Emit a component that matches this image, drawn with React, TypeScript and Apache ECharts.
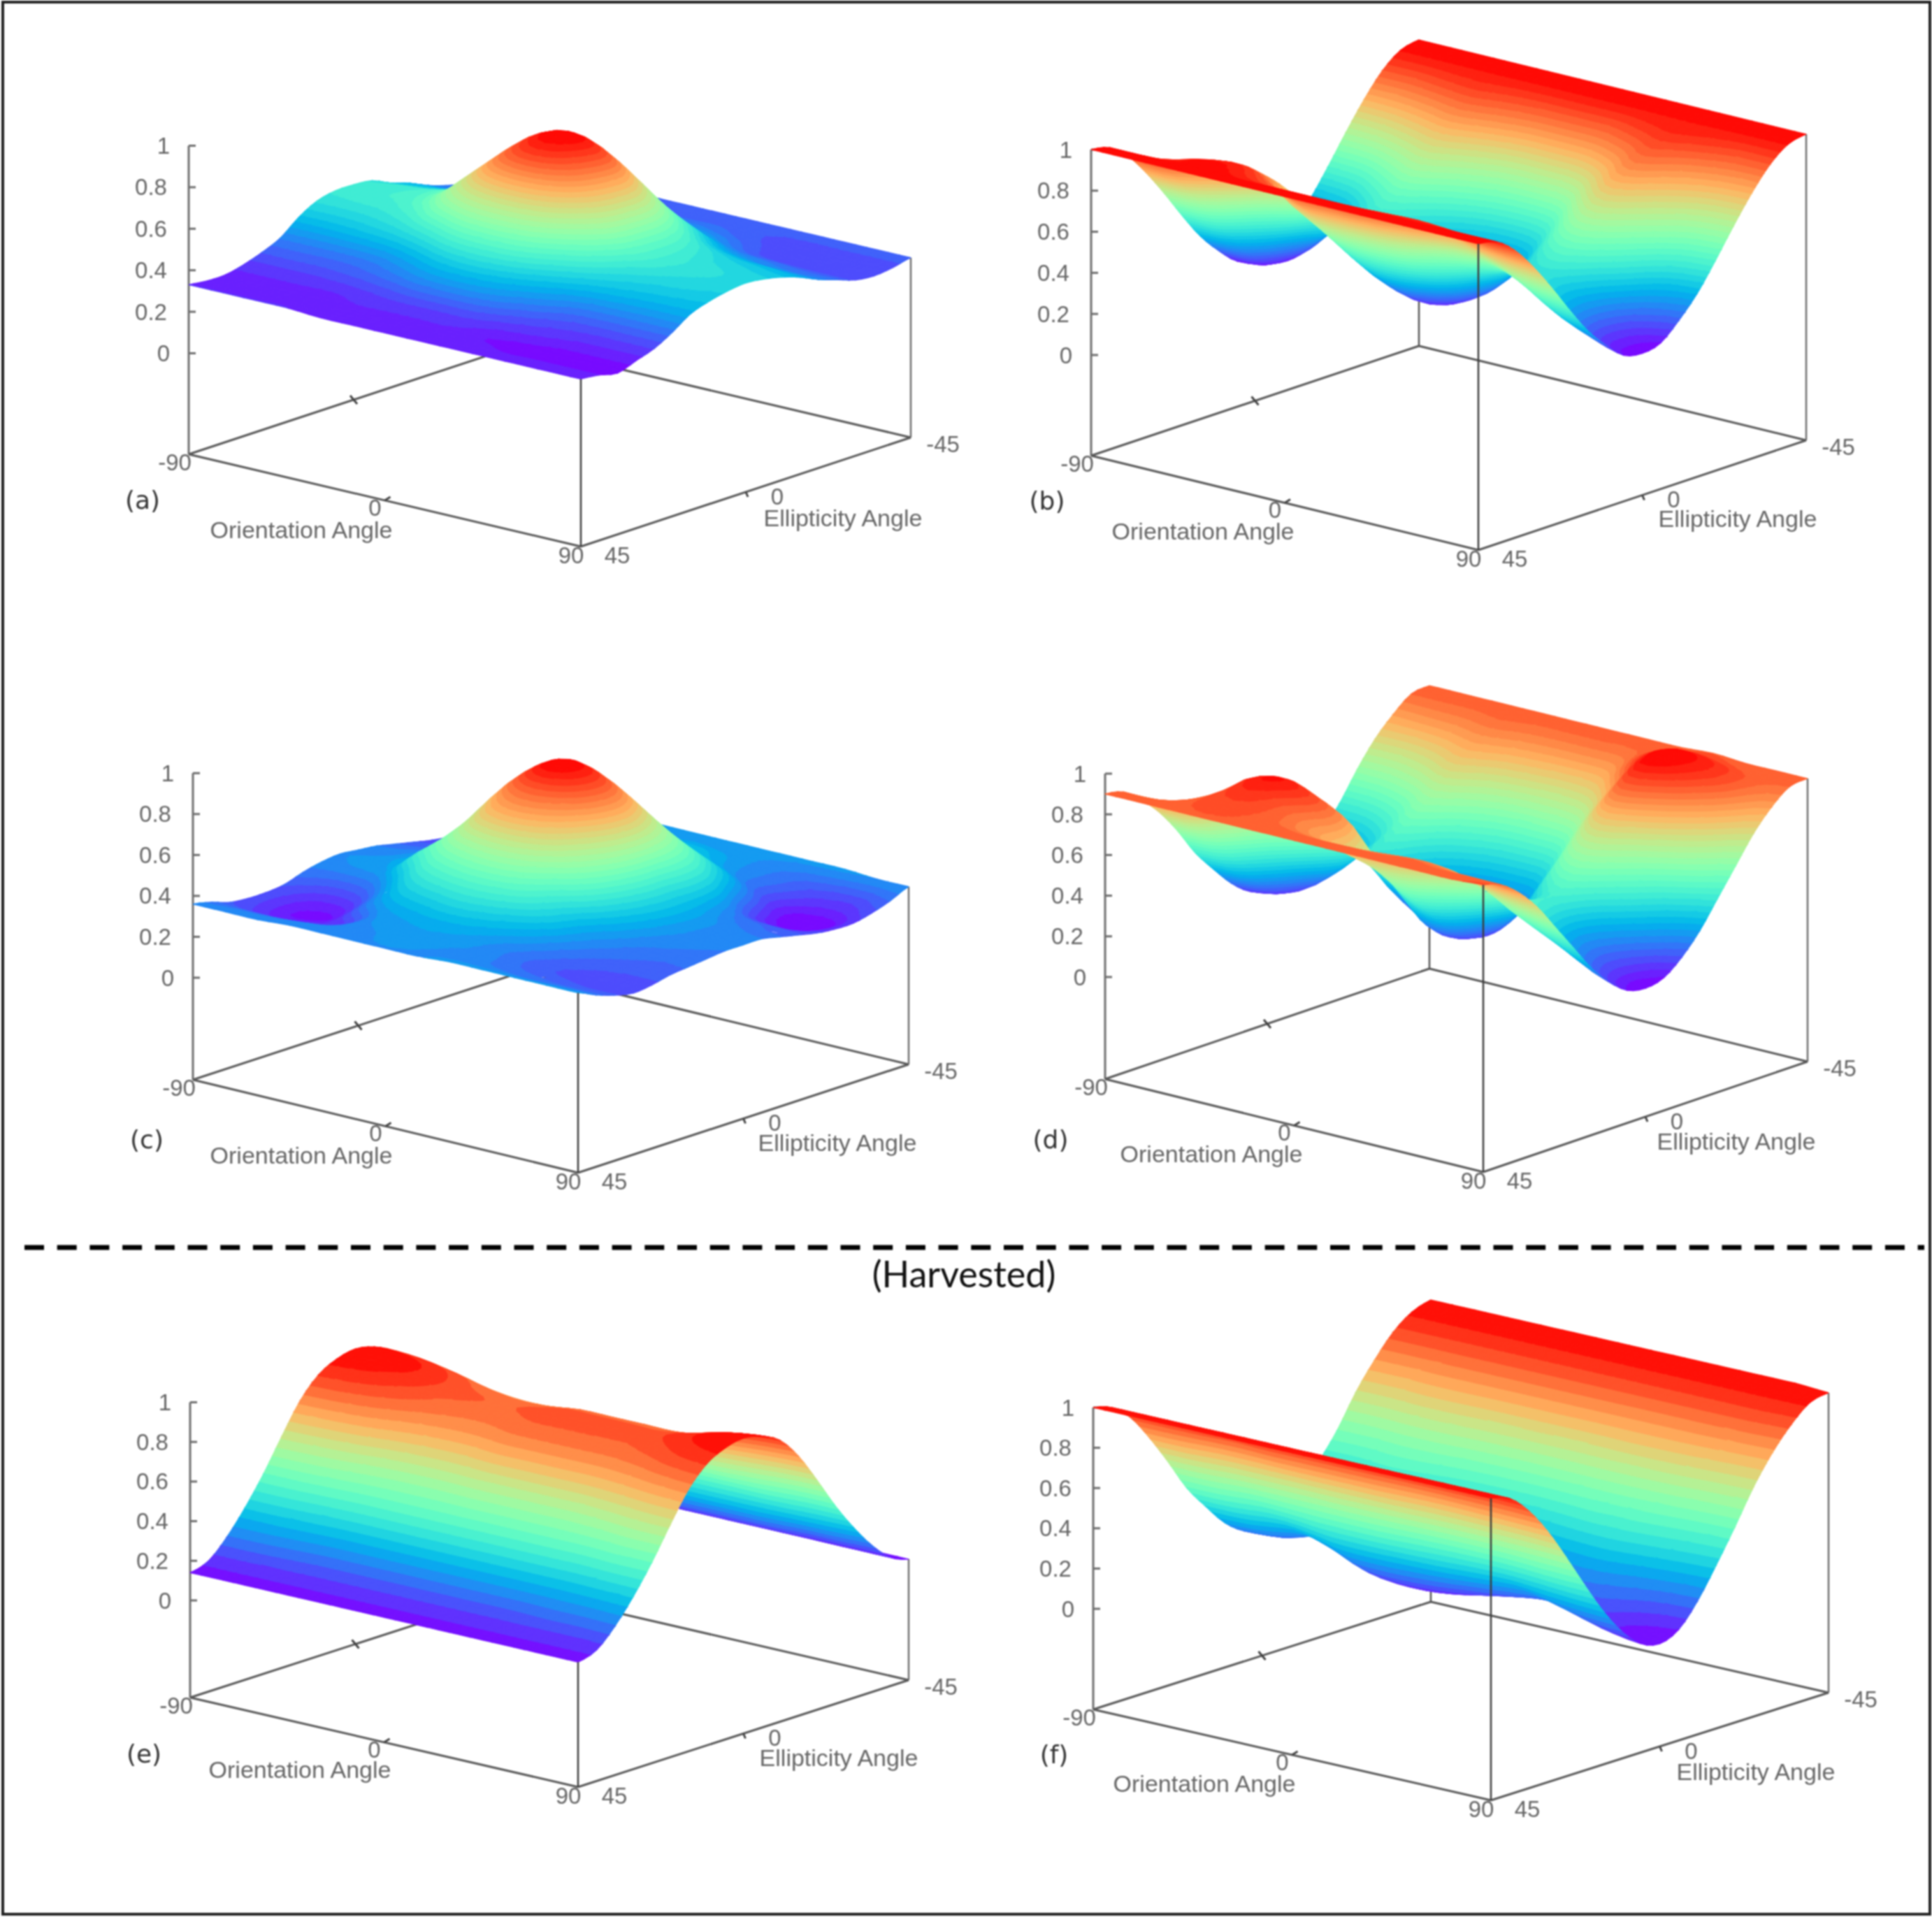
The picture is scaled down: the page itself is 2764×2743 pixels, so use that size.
import React, { useEffect, useRef } from "react";
import * as echarts from "echarts";

const PAGE_W = 2764;
const PAGE_H = 2743;

// Sampling axes of all six surfaces (degrees)
const orientationAngles = [-90, -75, -60, -45, -30, -15, 0, 15, 30, 45, 60, 75, 90];
const ellipticityAngles = [45, 40, 35, 30, 25, 20, 15, 10, 5, 0, -5, -10, -15, -20, -25, -30, -35, -40, -45];
const zTicks = ["0", "0.2", "0.4", "0.6", "0.8", "1"];
const zTickValues = [0, 0.2, 0.4, 0.6, 0.8, 1];

// Surface heights (in hundredths); rows follow ellipticityAngles, columns orientationAngles.
const surfaceA = [
  [33,33,33,33,32,32,32,32,32,32,32,32,32],
  [32,32,32,32,32,32,32,32,32,31,31,31,31],
  [32,32,32,32,33,33,33,33,31,30,29,29,29],
  [34,34,34,34,35,36,36,36,34,33,32,32,32],
  [37,37,37,38,40,43,44,43,39,36,35,35,35],
  [41,41,41,42,46,51,53,51,46,41,40,40,40],
  [48,48,49,51,56,63,65,63,55,49,47,46,46],
  [53,53,54,58,68,77,80,77,66,55,51,50,49],
  [55,56,57,63,76,88,93,88,75,60,54,52,51],
  [55,56,58,64,79,93,99,93,78,61,55,53,52],
  [54,55,57,63,79,94,100,94,78,61,54,52,51],
  [50,51,53,58,73,86,92,86,72,58,52,50,49],
  [47,48,49,53,64,74,78,74,63,52,48,47,46],
  [43,43,44,47,54,60,63,60,54,46,43,42,42],
  [40,40,41,42,46,49,50,49,45,41,40,39,39],
  [38,38,38,39,41,43,44,43,41,37,36,36,36],
  [37,37,37,38,39,40,40,40,38,36,35,35,35],
  [37,37,37,37,38,38,38,38,37,36,36,36,36],
  [38,38,38,38,38,38,38,38,38,38,38,38,38],
];
const surfaceB = [
  [100,100,100,100,100,100,100,100,100,100,100,100,100],
  [98,98,98,99,98,98,98,98,98,98,98,98,98],
  [91,91,97,98,94,91,91,91,93,94,93,91,91],
  [80,81,92,95,88,81,81,82,85,87,85,82,80],
  [67,69,82,88,76,69,68,70,75,79,75,70,67],
  [53,55,72,80,66,57,54,57,67,69,65,57,53],
  [40,43,61,70,56,45,41,46,57,61,55,45,40],
  [30,32,50,60,47,35,31,37,50,54,47,36,30],
  [22,25,43,55,42,28,24,31,46,50,42,29,22],
  [20,23,38,47,38,26,22,29,44,48,40,27,20],
  [22,25,40,49,40,28,24,31,47,53,43,29,22],
  [30,32,45,53,45,34,31,37,54,61,51,36,30],
  [40,43,53,60,52,44,41,46,62,71,60,45,40],
  [53,55,63,69,62,56,54,57,71,80,70,57,53],
  [67,69,74,78,73,68,68,70,79,87,79,70,67],
  [80,81,84,87,84,81,81,82,87,92,87,82,80],
  [91,91,93,94,92,91,91,91,94,96,94,91,91],
  [98,98,98,98,98,98,98,98,98,98,98,98,98],
  [100,100,100,100,100,100,100,100,100,100,100,100,100],
];
const surfaceC = [
  [36,36,36,37,37,37,37,37,38,38,38,38,38],
  [34,34,34,35,36,37,38,37,36,35,34,34,34],
  [31,28,28,30,36,38,39,38,36,33,32,31,31],
  [30,25,26,28,37,40,41,40,36,32,30,29,29],
  [30,24,24,34,42,45,47,45,40,34,31,30,30],
  [31,26,27,38,48,53,55,53,46,37,33,32,32],
  [34,31,33,44,56,63,66,63,51,40,35,33,33],
  [36,37,39,52,64,76,80,75,61,45,37,35,34],
  [37,38,41,50,69,84,90,84,68,49,39,36,35],
  [36,37,41,52,74,91,99,91,73,51,40,36,35],
  [35,36,40,51,74,92,100,92,74,51,40,36,35],
  [33,34,38,48,68,86,93,86,70,52,38,34,33],
  [31,32,35,43,60,76,82,76,64,50,35,32,31],
  [29,30,32,38,51,63,68,63,56,44,29,27,29],
  [28,28,30,34,43,50,53,50,47,38,25,23,28],
  [29,29,30,33,39,44,46,44,39,32,23,22,28],
  [31,31,32,34,38,41,42,41,37,33,27,26,30],
  [34,34,34,35,37,38,39,38,37,34,31,30,33],
  [37,37,37,37,38,38,38,38,38,38,38,37,37],
];
const surfaceD = [
  [90,90,90,90,90,90,90,90,90,90,90,90,91],
  [88,88,90,91,90,89,88,88,88,89,88,88,88],
  [81,83,90,93,90,85,82,82,84,85,83,82,81],
  [72,74,90,96,90,82,74,73,76,79,76,73,71],
  [60,64,90,98,94,84,68,61,67,72,67,62,58],
  [46,51,80,92,87,78,58,49,58,65,56,50,45],
  [35,39,65,80,72,60,45,38,49,58,47,39,32],
  [25,29,49,66,56,50,30,28,42,52,40,30,22],
  [18,22,38,52,45,34,21,22,37,48,35,24,15],
  [16,19,31,45,30,20,18,20,35,47,33,22,13],
  [18,21,33,46,32,22,20,22,42,52,38,25,15],
  [25,28,38,50,37,28,27,29,52,62,49,33,22],
  [35,37,46,56,45,38,36,39,62,75,62,44,32],
  [46,48,55,63,55,49,48,51,72,89,80,62,45],
  [60,61,66,72,65,61,61,64,80,98,93,78,58],
  [72,72,75,79,75,73,72,75,89,100,97,88,71],
  [81,82,83,85,83,82,82,83,92,98,96,90,81],
  [88,88,88,89,88,88,88,88,90,93,91,89,88],
  [89,89,89,89,89,89,89,89,89,90,89,89,89],
];
const surfaceE = [
  [14,14,14,14,14,14,14,14,14,14,14,14,14],
  [17,17,17,17,17,17,17,17,17,17,17,17,17],
  [26,26,25,24,24,24,24,24,24,24,25,25,26],
  [38,38,37,36,36,36,36,36,36,36,36,37,38],
  [52,52,51,50,50,50,50,50,50,50,50,52,52],
  [68,67,65,62,61,61,62,62,62,62,64,67,68],
  [83,82,80,76,74,74,76,76,76,76,78,81,83],
  [93,92,89,85,83,83,85,85,85,85,87,91,93],
  [98,97,94,89,87,87,89,89,89,89,92,96,98],
  [100,99,96,91,89,89,91,91,91,91,94,98,100],
  [98,97,94,89,87,87,89,89,89,89,92,96,98],
  [93,92,89,85,83,83,85,85,85,85,87,91,93],
  [82,81,79,75,73,73,75,75,75,75,77,80,82],
  [67,66,64,61,60,60,61,61,61,61,63,66,67],
  [51,51,50,49,49,49,49,49,49,49,49,51,51],
  [37,37,36,34,34,34,34,34,34,34,35,36,37],
  [25,25,24,23,23,23,23,23,23,23,24,24,25],
  [16,16,16,16,16,16,16,16,16,16,16,16,16],
  [13,13,13,13,13,13,13,13,13,13,12,12,12],
];
const surfaceF = [
  [100,100,100,100,100,100,100,100,100,100,100,100,100],
  [97,97,97,97,97,97,97,97,97,97,97,97,97],
  [89,89,89,90,89,89,89,89,89,89,89,89,88],
  [76,76,78,78,77,77,77,77,78,78,77,76,75],
  [61,61,63,63,63,62,62,62,63,63,62,61,59],
  [45,45,48,47,45,44,44,46,47,47,46,43,42],
  [33,33,36,34,29,28,29,30,32,33,31,28,26],
  [22,23,27,23,16,14,15,18,21,23,19,15,13],
  [15,16,20,15,8,6,7,10,13,15,13,7,4],
  [12,13,17,12,5,3,4,7,10,12,10,4,1],
  [15,16,20,16,9,7,8,11,14,16,14,8,5],
  [24,25,28,25,19,17,18,21,23,25,22,18,16],
  [37,37,40,38,33,32,32,34,37,38,36,33,31],
  [50,50,52,52,50,49,49,50,51,51,50,48,47],
  [66,66,68,68,67,67,67,67,68,68,67,65,64],
  [79,79,80,80,80,80,80,80,80,80,80,79,78],
  [90,90,90,90,90,90,90,90,90,90,90,90,89],
  [97,97,97,97,97,97,97,97,97,97,97,97,97],
  [100,100,100,100,100,100,100,100,100,100,100,100,99],
];

// Where each 3-D box sits on the page
const panels = [
  { name: "(a)", values: surfaceA, L: [270, 650], F: [831, 782], R: [1303, 626], zero: 144.5, unit: 297, bands: 36, tagAt: [-66, 65], orientAt: [161, 108], ellipAt: [-97, 115] },
  { name: "(b)", values: surfaceB, L: [1561, 652], F: [2115, 787], R: [2584, 630], zero: 144, unit: 294, bands: 36, tagAt: [-63, 64], orientAt: [160, 108], ellipAt: [-98, 112] },
  { name: "(c)", values: surfaceC, L: [276, 1545], F: [827, 1678], R: [1300, 1523], zero: 146, unit: 292.7, bands: 36, tagAt: [-66, 85], orientAt: [155, 108], ellipAt: [-102, 112] },
  { name: "(d)", values: surfaceD, L: [1581, 1544], F: [2122, 1677], R: [2586, 1519], zero: 146, unit: 291, bands: 36, tagAt: [-78, 86], orientAt: [152, 107], ellipAt: [-102, 114] },
  { name: "(e)", values: surfaceE, L: [272, 2429], F: [827, 2557], R: [1300, 2404], zero: 139, unit: 283.5, bands: 24, tagAt: [-66, 80], orientAt: [157, 103], ellipAt: [-100, 111] },
  { name: "(f)", values: surfaceF, L: [1564, 2446], F: [2133, 2576], R: [2616, 2422], zero: 144, unit: 288, bands: 24, tagAt: [-56, 64], orientAt: [159, 106], ellipAt: [-104, 113] },
];

// Display only: the mesh is drawn with a spline through the read values, like a line series' smooth option.
const MESH_STEPS = 3;

const rainbow = (t: number) => {
  const r = Math.min(1, Math.abs(2 * t - 0.5));
  const g = Math.sin(Math.PI * t);
  const b = Math.cos((Math.PI * t) / 2);
  return `rgb(${Math.round(r * 255)},${Math.round(g * 255)},${Math.round(b * 255)})`;
};

type P = (typeof panels)[number];

const project = (p: P, psi: number, chi: number, z: number) => {
  const a = (psi + 90) / 180;
  const b = (45 - chi) / 90;
  return [
    p.L[0] + a * (p.F[0] - p.L[0]) + b * (p.R[0] - p.F[0]),
    p.L[1] + a * (p.F[1] - p.L[1]) + b * (p.R[1] - p.F[1]) - p.zero - z * p.unit,
  ];
};
const ground = (p: P, psi: number, chi: number) => {
  const q = project(p, psi, chi, 0);
  return [q[0], q[1] + p.zero];
};

const spline = (a: number, b: number, c: number, d: number, t: number) =>
  0.5 * (2 * b + (c - a) * t + (2 * a - 5 * b + 4 * c - d) * t * t + (3 * b - a - 3 * c + d) * t * t * t);

const smoothLine = (line: number[]) => {
  const out: number[] = [];
  const at = (i: number) => line[Math.max(0, Math.min(line.length - 1, i))];
  for (let i = 0; i < line.length - 1; i++) {
    for (let s = 0; s < MESH_STEPS; s++) out.push(spline(at(i - 1), at(i), at(i + 1), at(i + 2), s / MESH_STEPS));
  }
  out.push(line[line.length - 1]);
  return out;
};

const smoothMesh = (values: number[][]) => {
  const wide = values.map(smoothLine);
  const cols = wide[0].map((_, c) => smoothLine(wide.map((row) => row[c])));
  return cols[0].map((_, r) => cols.map((col) => col[r]));
};

// Cuts one triangle [x, y, t] into the palette bands it crosses.
const clipLevel = (poly: number[][], level: number, keepAbove: boolean) => {
  const out: number[][] = [];
  for (let i = 0; i < poly.length; i++) {
    const A = poly[i];
    const B = poly[(i + 1) % poly.length];
    const inA = keepAbove ? A[2] >= level : A[2] <= level;
    const inB = keepAbove ? B[2] >= level : B[2] <= level;
    if (inA) out.push(A);
    if (inA !== inB) {
      const s = (level - A[2]) / (B[2] - A[2]);
      out.push([A[0] + s * (B[0] - A[0]), A[1] + s * (B[1] - A[1]), level]);
    }
  }
  return out;
};

const bandPolygons = (tri: number[][], bands: number, children: any[]) => {
  const ts = tri.map((v) => v[2]);
  const lo = Math.max(0, Math.floor(Math.min(...ts) * bands));
  const hi = Math.min(bands - 1, Math.floor(Math.max(...ts) * bands));
  for (let k = lo; k <= hi; k++) {
    let poly = clipLevel(tri, k / bands, true);
    if (poly.length) poly = clipLevel(poly, (k + 1) / bands, false);
    if (poly.length < 3) continue;
    const color = rainbow((k + 0.5) / bands);
    children.push({
      type: "polygon",
      shape: { points: poly.map((v) => [v[0], v[1]]) },
      style: { fill: color, stroke: color, lineWidth: 1.2 },
    });
  }
};

const surfaceSeries = (p: P) => {
  const flat = p.values.flat();
  const min = Math.min(...flat);
  const max = Math.max(...flat);
  const mesh = smoothMesh(p.values);
  const cells: number[][] = [];
  for (let r = mesh.length - 1; r > 0; r--) {
    for (let c = 0; c < mesh[0].length - 1; c++) cells.push([r, c]);
  }
  const psiStep = (orientationAngles[1] - orientationAngles[0]) / MESH_STEPS;
  const chiStep = (ellipticityAngles[1] - ellipticityAngles[0]) / MESH_STEPS;
  return {
    type: "custom",
    coordinateSystem: "cartesian2d",
    silent: true,
    clip: false,
    z: 3,
    progressive: 0,
    data: cells,
    renderItem: (_: any, api: any) => {
      const r = api.value(0);
      const c = api.value(1);
      const vertex = (rr: number, cc: number) => {
        const z = Math.max(min, Math.min(max, mesh[rr][cc]));
        const xy = api.coord(project(p, orientationAngles[0] + cc * psiStep, ellipticityAngles[0] + rr * chiStep, z / 100));
        return [xy[0], xy[1], (z - min) / (max - min)];
      };
      const far = vertex(r, c);
      const side = vertex(r, c + 1);
      const other = vertex(r - 1, c);
      const near = vertex(r - 1, c + 1);
      const children: any[] = [];
      bandPolygons([far, side, other], p.bands, children);
      bandPolygons([side, near, other], p.bands, children);
      return { type: "group", children };
    },
  };
};

const GREY = "#666666";

const frameSeries = (p: P, front: boolean) => ({
  type: "custom",
  coordinateSystem: "cartesian2d",
  silent: true,
  clip: false,
  z: front ? 4 : 2,
  data: [[0, 0]],
  renderItem: (_: any, api: any) => {
    const line = (a: number[], b: number[], color = "#585858", w = 3) => {
      const s = api.coord(a);
      const e = api.coord(b);
      return { type: "line", shape: { x1: s[0], y1: s[1], x2: e[0], y2: e[1] }, style: { stroke: color, lineWidth: w } };
    };
    const text = (s: string, at: number[], size = 33, color = GREY, family = '"Liberation Sans"') => {
      const c = api.coord(at);
      return {
        type: "text",
        x: c[0],
        y: c[1],
        style: { text: s, font: `${size}px ${family}`, fill: color, align: "center", verticalAlign: "middle" },
      };
    };
    const L = ground(p, -90, 45);
    const F = ground(p, 90, 45);
    const R = ground(p, 90, -45);
    const B = ground(p, -90, -45);
    const lastRow = ellipticityAngles.length - 1;
    const lastCol = orientationAngles.length - 1;
    const children: any[] = [];
    if (!front) {
      const top = project(p, -90, 45, 1);
      children.push(line(L, top, "#6e6e6e", 3));
      zTickValues.forEach((v, i) => {
        const t = project(p, -90, 45, v);
        children.push(line(t, [t[0] + 10, t[1]], "#6e6e6e", 3));
        children.push(text(zTicks[i], [t[0] - (zTicks[i].length > 1 ? 54 : 36), t[1]]));
      });
      children.push(line(L, B), line(B, R));
      children.push(line(B, project(p, -90, -45, p.values[lastRow][0] / 100), "#555555", 2.5));
      children.push(line(R, project(p, 90, -45, p.values[lastRow][lastCol] / 100), "#6e6e6e", 2.5));
      const backTick = ground(p, -90, 0);
      children.push(line([backTick[0] - 5, backTick[1] - 6], [backTick[0] + 5, backTick[1] + 6], "#444444", 3));
    } else {
      children.push(line(L, F), line(F, R));
      children.push(line(F, project(p, 90, 45, p.values[0][lastCol] / 100), "#3c3c3c", 2.5));
      const mid1 = ground(p, 0, 45);
      const mid2 = ground(p, 90, 0);
      children.push(line(mid1, [mid1[0] + 8, mid1[1] - 5], "#444444", 3));
      children.push(line(mid2, [mid2[0] + 3, mid2[1] + 7], "#444444", 3));
      children.push(text("-90", [L[0] - 20, L[1] + 11]));
      children.push(text("0", [mid1[0] - 14, mid1[1] + 10]));
      children.push(text("90", [F[0] - 14, F[1] + 12]));
      children.push(text("45", [F[0] + 52, F[1] + 12]));
      children.push(text("0", [mid2[0] + 45, mid2[1] + 6]));
      children.push(text("-45", [R[0] + 46, R[1] + 9]));
      children.push(text("Orientation Angle", [L[0] + p.orientAt[0], L[1] + p.orientAt[1]], 34));
      children.push(text("Ellipticity Angle", [R[0] + p.ellipAt[0], R[1] + p.ellipAt[1]], 34));
      children.push(text(p.name, [L[0] + p.tagAt[0], L[1] + p.tagAt[1]], 36, "#333333", '"DejaVu Sans"'));
    }
    return { type: "group", children };
  },
});

export default function App() {
  const ref = useRef<HTMLDivElement>(null);
  useEffect(() => {
    const chart = echarts.init(ref.current!, null, { renderer: "svg", width: PAGE_W, height: PAGE_H });
    chart.setOption({
      animation: false,
      backgroundColor: "#ffffff",
      grid: { left: 0, right: 0, top: 0, bottom: 0 },
      xAxis: { type: "value", min: 0, max: PAGE_W, show: false },
      yAxis: { type: "value", min: 0, max: PAGE_H, inverse: true, show: false },
      graphic: [
        {
          type: "rect",
          shape: { x: 4, y: 3, width: PAGE_W - 7, height: PAGE_H - 7 },
          style: { fill: "none", stroke: "#222222", lineWidth: 4 },
        },
        {
          type: "line",
          shape: { x1: 35, y1: 1785, x2: 2753, y2: 1785 },
          style: { stroke: "#000000", lineWidth: 7, lineDash: [28, 18.7] },
        },
        {
          type: "text",
          x: 1379,
          y: 1822,
          style: { text: "(Harvested)", font: "52px Lato", fill: "#111111", align: "center", verticalAlign: "middle" },
        },
      ],
      series: panels.flatMap((p) => [frameSeries(p, false), surfaceSeries(p), frameSeries(p, true)]),
    });
    return () => chart.dispose();
  }, []);
  return <div ref={ref} style={{ position: "absolute", left: 0, top: 0, width: PAGE_W, height: PAGE_H, filter: "blur(0.8px)" }} />;
}
